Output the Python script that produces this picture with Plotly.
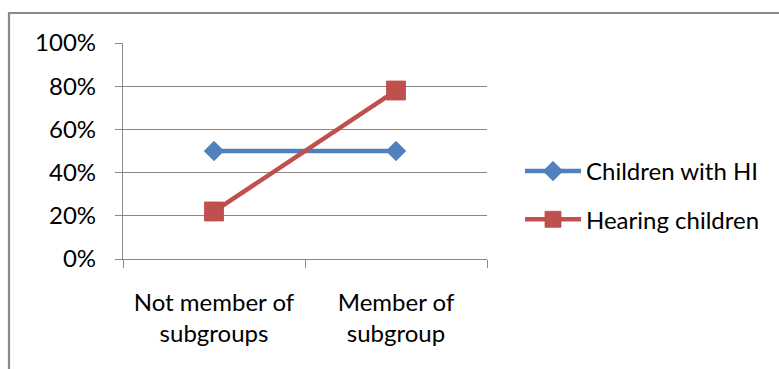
import plotly.graph_objects as go

# Categories and series values
categories = ["Not member of<br>subgroups", "Member of<br>subgroup"]
children_with_hi = [0.50, 0.50]
hearing_children = [0.22, 0.78]
y_tick_values = [0, 0.2, 0.4, 0.6, 0.8, 1.0]
y_tick_labels = ["0%", "20%", "40%", "60%", "80%", "100%"]

# Canvas and plot-area geometry (pixels)
W, H = 779, 369
L, R, T, B = 123, 292, 43, 110
PW, PH = W - L - R, H - T - B

FONT = "Lato"
AXIS_GREY = "#898989"
BLUE = "#4F81BD"
RED = "#C0504D"


def px_x(px):
    return (px - L) / PW


def px_y(py):
    return (H - B - py) / PH


fig = go.Figure()

fig.add_trace(go.Scatter(
    x=categories, y=children_with_hi, name="Children with HI",
    mode="lines+markers", legendgroup="a",
    line=dict(color=BLUE, width=4.5),
    marker=dict(symbol="diamond", size=15, color=BLUE,
                line=dict(color="#4A7EBB", width=0.8)),
))
fig.add_trace(go.Scatter(
    x=categories, y=hearing_children, name="Hearing children",
    mode="lines+markers", legendgroup="b",
    line=dict(color=RED, width=4.5),
    marker=dict(symbol="square", size=19, color=RED,
                line=dict(color="#BE4B48", width=0.8)),
))

# Outer chart border
fig.add_shape(type="rect", xref="paper", yref="paper",
              x0=px_x(9), x1=px_x(W + 20), y0=px_y(H + 20), y1=px_y(13),
              line=dict(color=AXIS_GREY, width=2.2), fillcolor="rgba(0,0,0,0)",
              layer="below")

fig.update_layout(
    width=W, height=H,
    margin=dict(l=L, r=R, t=T, b=B, pad=0),
    paper_bgcolor="white", plot_bgcolor="white",
    font=dict(family=FONT, size=24, color="black"),
    showlegend=True,
    legend=dict(
        x=px_x(520), y=px_y(195.5), xanchor="left", yanchor="middle",
        traceorder="grouped", tracegroupgap=14, itemwidth=56,
        font=dict(family=FONT, size=24, color="black"),
        bgcolor="rgba(0,0,0,0)",
    ),
    xaxis=dict(
        type="category", range=[-0.5, 1.5],
        showline=True, linecolor=AXIS_GREY, linewidth=1.3,
        ticks="outside", tickson="boundaries", ticklen=8,
        tickcolor=AXIS_GREY, tickwidth=1.3,
        showgrid=False, zeroline=False,
        ticklabelstandoff=22,
        tickfont=dict(family=FONT, size=24, color="black"),
    ),
    yaxis=dict(
        range=[0, 1], tickvals=y_tick_values, ticktext=y_tick_labels,
        showline=True, linecolor=AXIS_GREY, linewidth=1.3,
        ticks="outside", ticklen=7, tickcolor=AXIS_GREY, tickwidth=1.3,
        showgrid=True, gridcolor=AXIS_GREY, gridwidth=1.3,
        zeroline=False, ticklabelstandoff=14,
        tickfont=dict(family=FONT, size=24, color="black"),
    ),
)

fig.write_html("out.html")
